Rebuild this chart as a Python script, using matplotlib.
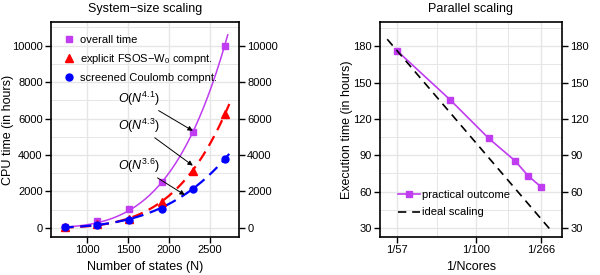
import numpy as np
import matplotlib
matplotlib.use("Agg")
import matplotlib.pyplot as plt
from matplotlib.ticker import MultipleLocator, FixedLocator

plt.rcParams['font.family'] = ['Liberation Sans', 'DejaVu Sans']
plt.rcParams['mathtext.fontset'] = 'custom'
plt.rcParams['mathtext.rm'] = 'Liberation Sans'
plt.rcParams['mathtext.it'] = 'Liberation Sans:italic'
plt.rcParams['mathtext.bf'] = 'Liberation Sans:bold'

# ---- system-size scaling data ----
n_states = np.array([732, 1122, 1512, 1915, 2293, 2683])
t_overall = np.array([50, 380, 1020, 2530, 5270, 10000])
t_fsos = np.array([40, 200, 500, 1450, 3120, 6250])
t_coulomb = np.array([50, 180, 450, 1050, 2150, 3800])
exp_overall, exp_fsos, exp_coulomb = 4.1, 4.3, 3.6
fit_range = [700, 2745]
fit_range_overall = [700, 2720]

# ---- parallel scaling data ----
ncores = np.array([57, 80, 114, 160, 201, 266])
t_exec = np.array([176, 136, 104, 85.5, 73, 64])
ideal_range = [54, 340]
xtick_cores = [57, 100, 266]

purple = '#C03CF0'
grid_c = '#e6e6e6'


def powfit(x, y, p, lo, hi):
    a = np.sum(y * x**p) / np.sum(x**(2 * p))
    xx = np.linspace(lo, hi, 200)
    return xx, a * xx**p


def style(ax):
    for s in ax.spines.values():
        s.set_linewidth(1.2)
    ax.tick_params(which='major', direction='out', length=4, width=1, pad=2,
                   labelsize=8, right=True, labelright=True, top=False)
    ax.tick_params(which='minor', length=0)
    ax.grid(True, which='major', color=grid_c, lw=1.0)
    ax.grid(True, which='minor', color=grid_c, lw=0.7)
    ax.set_axisbelow(True)


fig = plt.figure(figsize=(6, 2.75), dpi=100)
ax1 = fig.add_axes([0.085, 0.138, 0.313, 0.782])
ax2 = fig.add_axes([0.633, 0.138, 0.304, 0.782])

# ---------------- left panel ----------------
xx, yy = powfit(n_states, t_overall, exp_overall, *fit_range_overall)
ax1.plot(xx, yy, color=purple, lw=1.1)
xx, yy = powfit(n_states, t_fsos, exp_fsos, *fit_range)
ax1.plot(xx, yy, color='red', lw=1.6, dashes=(5, 3))
xx, yy = powfit(n_states, t_coulomb, exp_coulomb, *fit_range)
ax1.plot(xx, yy, color='blue', lw=1.6, dashes=(5, 3))

ax1.plot(n_states, t_overall, 's', color=purple, ms=4.8, label='overall time')
ax1.plot(n_states, t_fsos, '^', color='red', ms=5.5,
         label='explicit FSOS\u2212W$_0$ compnt.')
ax1.plot(n_states, t_coulomb, 'o', color='blue', ms=5,
         label='screened Coulomb compnt.')

arrow = dict(arrowstyle='-|>', color='black', lw=0.7, mutation_scale=7,
             shrinkA=0, shrinkB=0)
ax1.annotate('$O(N^{4.1})$', xy=(2293, 5330), xytext=(1375, 7090),
             fontsize=9, va='center', ha='left', arrowprops=arrow)
ax1.annotate('$O(N^{4.3})$', xy=(2293, 3420), xytext=(1375, 5600),
             fontsize=9, va='center', ha='left', arrowprops=arrow)
ax1.annotate('$O(N^{3.6})$', xy=(2195, 1810), xytext=(1375, 3400),
             fontsize=9, va='center', ha='left', arrowprops=arrow)

ax1.set_xlim(560, 2855)
ax1.set_ylim(-500, 11300)
ax1.xaxis.set_major_locator(FixedLocator([1000, 1500, 2000, 2500]))
ax1.yaxis.set_major_locator(MultipleLocator(2000))
ax1.yaxis.set_minor_locator(MultipleLocator(1000))
style(ax1)
ax1.set_title('System\u2212size scaling', fontsize=9, pad=7)
ax1.set_xlabel('Number of states (N)', fontsize=9, labelpad=4)
ax1.set_ylabel('CPU time (in hours)', fontsize=9)
ax1.yaxis.set_label_coords(-0.197, 0.5)
ax1.legend(loc='upper left', frameon=False, fontsize=8, handlelength=0.8,
           handletextpad=0.6, labelspacing=0.6, borderaxespad=0.9,
           borderpad=0.3)

# ---------------- right panel ----------------
inv = 1.0 / ncores
ax2.plot(inv, t_exec, '-s', color=purple, lw=1.2, ms=4.5,
         label='practical outcome')
ideal_n = np.array(ideal_range, dtype=float)
ideal_t = t_exec[0] * ncores[0] / ideal_n
ax2.plot(1.0 / ideal_n, ideal_t, color='black', lw=1.2, dashes=(5, 3.5),
         label='ideal scaling')

ax2.set_xlim(1 / 52.0, 1 / 585.0)
ax2.set_ylim(22.5, 200)
ax2.xaxis.set_major_locator(FixedLocator([1.0 / n for n in xtick_cores]))
ax2.set_xticklabels(['1/%d' % n for n in xtick_cores])
mids = [(1.0 / xtick_cores[i] + 1.0 / xtick_cores[i + 1]) / 2
        for i in range(len(xtick_cores) - 1)]
ax2.xaxis.set_minor_locator(FixedLocator(mids))
ax2.yaxis.set_major_locator(MultipleLocator(30))
ax2.yaxis.set_minor_locator(MultipleLocator(15))
style(ax2)
ax2.set_title('Parallel scaling', fontsize=9, pad=7)
ax2.set_xlabel('1/Ncores', fontsize=9, labelpad=4)
ax2.set_ylabel('Execution time (in hours)', fontsize=9)
ax2.yaxis.set_label_coords(-0.145, 0.5)
ax2.legend(loc='lower left', frameon=False, fontsize=8, handlelength=2.0,
           handletextpad=0.2, labelspacing=0.7, borderaxespad=0.4,
           bbox_to_anchor=(0.05, 0.05))

fig.savefig('out.png', dpi=100)
